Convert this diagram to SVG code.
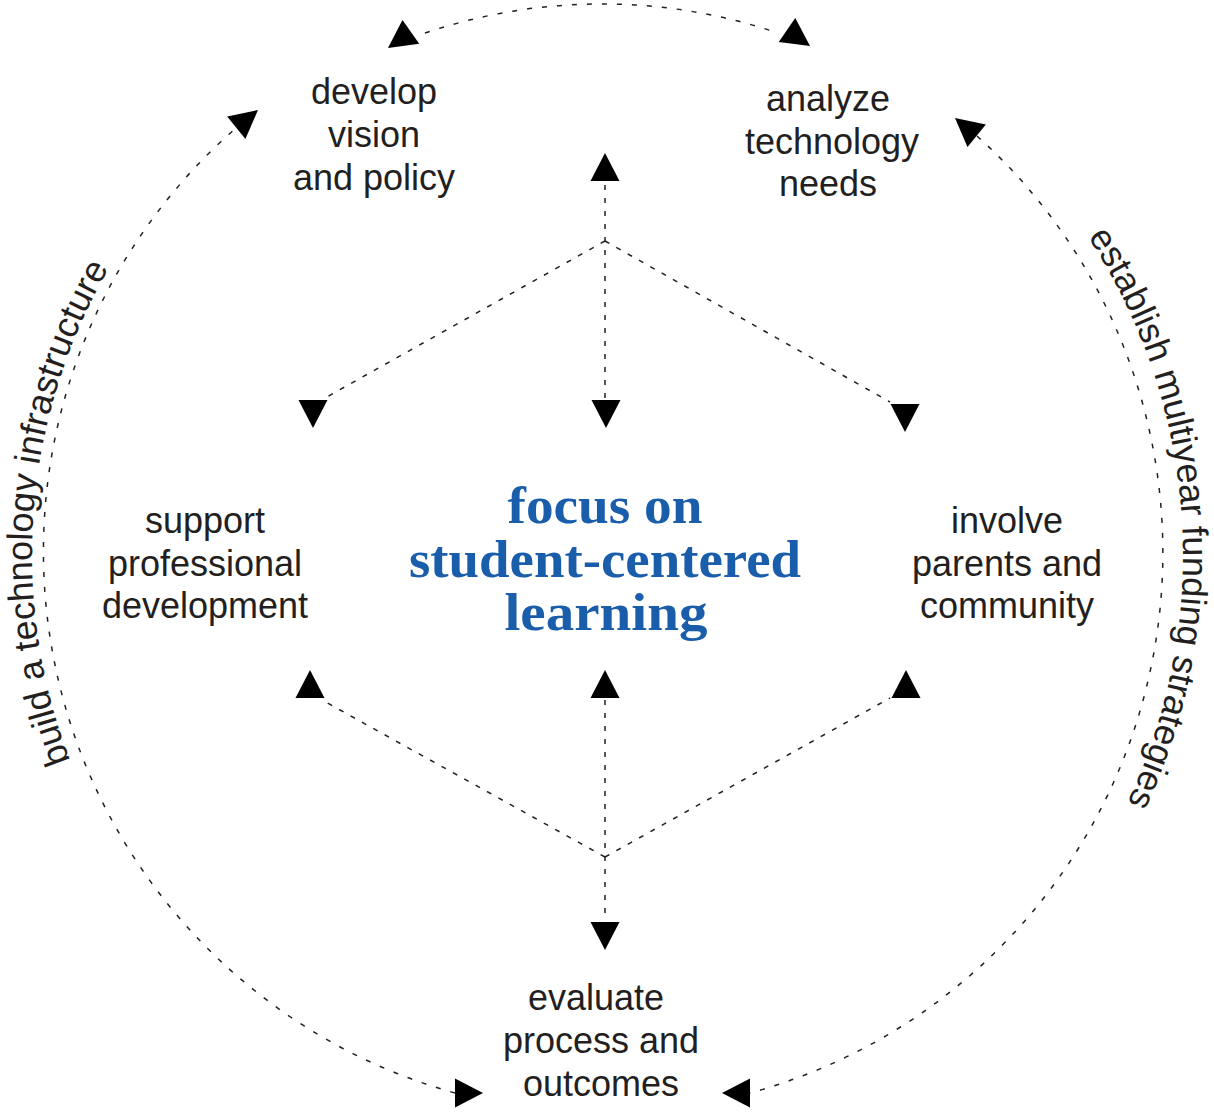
<svg xmlns="http://www.w3.org/2000/svg" xmlns:xlink="http://www.w3.org/1999/xlink" width="1214" height="1114" viewBox="0 0 1214 1114">
<style>
.lbl{font-family:"Liberation Sans",Arial,sans-serif;font-size:36px;fill:#231f20;text-anchor:middle}
.arc{font-family:"Liberation Sans",Arial,sans-serif;font-size:36px;fill:#231f20}
.ctr{font-family:"Liberation Serif","Times New Roman",serif;font-weight:bold;font-size:52px;fill:#1a5eab;text-anchor:middle}
.outer{fill:none;stroke:#231f20;stroke-width:1.5;stroke-dasharray:5 10}
.inner{fill:none;stroke:#231f20;stroke-width:1.5;stroke-dasharray:5 8}
.head{fill:#000}
</style>
<defs>
<path id="tri" d="M0,0 L-28,-14.5 L-28,14.5 Z"/>
<path id="leftPath" d="M108.8,841.5 A573,573 0 0 1 159.7,194.4"/>
<path id="rightPath" d="M1020.8,153.5 A578,578 0 0 1 1072.6,894.7"/>
</defs>
<rect width="1214" height="1114" fill="#fff"/>
<g id="connectors">
<path class="outer" d="M425,33 A551,551 0 0 1 775,32"/>
<path class="outer" d="M455,1093 A562,562 0 0 1 236,128"/>
<path class="outer" d="M977,136 A560,560 0 0 1 750,1093"/>
<path class="inner" d="M605,185 L605,400"/>
<path class="inner" d="M605,241 L325,398"/>
<path class="inner" d="M605,241 L890,402"/>
<path class="inner" d="M605,700 L605,920"/>
<path class="inner" d="M605,857 L322,700"/>
<path class="inner" d="M605,857 L890,698"/>
<g class="head">
<use xlink:href="#tri" transform="translate(388,48) rotate(144.7)"/>
<use xlink:href="#tri" transform="translate(810,46) rotate(34.8)"/>
<use xlink:href="#tri" transform="translate(258,110) rotate(-39.1)"/>
<use xlink:href="#tri" transform="translate(955,118) rotate(-140.7)"/>
<use xlink:href="#tri" transform="translate(483,1093)"/>
<use xlink:href="#tri" transform="translate(722,1093) rotate(180)"/>
<use xlink:href="#tri" transform="translate(605,153) rotate(-90)"/>
<use xlink:href="#tri" transform="translate(313,428) rotate(90)"/>
<use xlink:href="#tri" transform="translate(606,428) rotate(90)"/>
<use xlink:href="#tri" transform="translate(905,432) rotate(90)"/>
<use xlink:href="#tri" transform="translate(310,670) rotate(-90)"/>
<use xlink:href="#tri" transform="translate(605,670) rotate(-90)"/>
<use xlink:href="#tri" transform="translate(906,670) rotate(-90)"/>
<use xlink:href="#tri" transform="translate(605,950) rotate(90)"/>
</g>
</g>
<g id="node-vision">
<text class="lbl" x="374" y="104">develop</text>
<text class="lbl" x="374" y="147">vision</text>
<text class="lbl" x="374" y="190">and policy</text>
</g>
<g id="node-analyze">
<text class="lbl" x="828" y="111">analyze</text>
<text class="lbl" x="832" y="154">technology</text>
<text class="lbl" x="828" y="196">needs</text>
</g>
<g id="node-support">
<text class="lbl" x="205" y="533">support</text>
<text class="lbl" x="205" y="576">professional</text>
<text class="lbl" x="205" y="618">development</text>
</g>
<g id="node-involve">
<text class="lbl" x="1007" y="533">involve</text>
<text class="lbl" x="1007" y="576">parents and</text>
<text class="lbl" x="1007" y="618">community</text>
</g>
<g id="node-evaluate">
<text class="lbl" x="596" y="1010">evaluate</text>
<text class="lbl" x="601" y="1053">process and</text>
<text class="lbl" x="601" y="1096">outcomes</text>
</g>
<g id="node-center">
<text class="ctr" x="605" y="523" textLength="195" lengthAdjust="spacingAndGlyphs">focus on</text>
<text class="ctr" x="605" y="577" textLength="392" lengthAdjust="spacingAndGlyphs">student-centered</text>
<text class="ctr" x="606" y="630" textLength="203" lengthAdjust="spacingAndGlyphs">learning</text>
</g>
<g id="label-infrastructure">
<text class="arc"><textPath xlink:href="#leftPath" startOffset="50%" text-anchor="middle">build a technology infrastructure</textPath></text>
</g>
<g id="label-funding">
<text class="arc"><textPath xlink:href="#rightPath" startOffset="50%" text-anchor="middle">establish multiyear funding strategies</textPath></text>
</g>
</svg>
